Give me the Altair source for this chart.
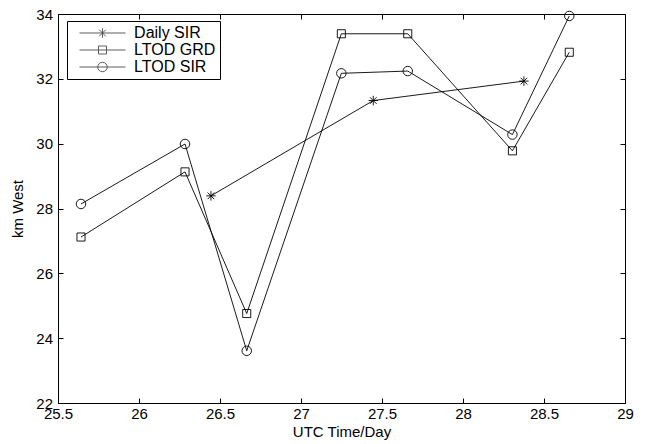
import altair as alt
import pandas as pd

# ---- data ----
daily_sir_x = [26.444, 27.446, 28.376]
daily_sir_y = [28.39, 31.33, 31.93]

ltod_grd_x = [25.642, 26.284, 26.665, 27.249, 27.659, 28.305, 28.656]
ltod_grd_y = [27.12, 29.13, 24.76, 33.39, 33.39, 29.78, 32.82]

ltod_sir_x = [25.642, 26.284, 26.665, 27.249, 27.659, 28.305, 28.656]
ltod_sir_y = [28.14, 29.99, 23.61, 32.17, 32.24, 30.28, 33.94]

series_names = ["Daily SIR", "LTOD GRD", "LTOD SIR"]
x_ticks = [25.5, 26, 26.5, 27, 27.5, 28, 28.5, 29]
y_ticks = [22, 24, 26, 28, 30, 32, 34]

rows = []
for name, xs, ys in [("Daily SIR", daily_sir_x, daily_sir_y),
                     ("LTOD GRD", ltod_grd_x, ltod_grd_y),
                     ("LTOD SIR", ltod_sir_x, ltod_sir_y)]:
    for a, b in zip(xs, ys):
        rows.append({"series": name, "t": a, "km": b})
df = pd.DataFrame(rows)

FONT = "Liberation Sans"

# marker shapes (unit path, scaled by sqrt(size)/2)
star = "M0,-1V1M-1,0H1M-0.7,-0.7L0.7,0.7M-0.7,0.7L0.7,-0.7"
square = "M-0.85,-0.85H0.85V0.85H-0.85Z"
circle = "M-1,0A1,1,0,1,1,1,0A1,1,0,1,1,-1,0Z"

# legend symbols: line + marker (symbol size 100 -> 5 px per unit)
lg_star = "M-4.6,0H4.6M0,-0.95V0.95M-0.67,-0.67L0.67,0.67M-0.67,0.67L0.67,-0.67"
lg_square = "M-4.6,0H4.6M-0.8,-0.8H0.8V0.8H-0.8Z"
lg_circle = "M-4.6,0H4.6M-0.95,0A0.95,0.95,0,1,1,0.95,0A0.95,0.95,0,1,1,-0.95,0Z"

xscale = alt.Scale(domain=[25.5, 29], nice=False, zero=False)
yscale = alt.Scale(domain=[22, 34], nice=False, zero=False)

common_axis = dict(offset=-5, tickSize=5, domain=False, grid=False,
                   tickColor="black", tickWidth=1, labelColor="black",
                   labelFont=FONT, labelFontSize=15, titleFont=FONT,
                   titleFontSize=15, titleFontWeight="normal", titleColor="black",
                   labelFlush=False, labelOverlap=False)

base = alt.Chart(df)

lines = base.mark_line(color="black", strokeWidth=0.9).encode(
    x=alt.X("t:Q", scale=xscale,
            axis=alt.Axis(values=x_ticks, format="~f", labelPadding=3,
                          title="UTC Time/Day", titlePadding=3, **common_axis)),
    y=alt.Y("km:Q", scale=yscale,
            axis=alt.Axis(values=y_ticks, format="d", labelPadding=5.5,
                          title="km West", titlePadding=10, **common_axis)),
    detail="series:N",
)

points = base.mark_point(filled=False, color="black", strokeWidth=0.9, size=90,
                         opacity=1).encode(
    x=alt.X("t:Q", scale=xscale,
            axis=alt.Axis(orient="top", values=x_ticks, labels=False, title=None,
                          **common_axis)),
    y=alt.Y("km:Q", scale=yscale,
            axis=alt.Axis(orient="right", values=y_ticks, labels=False, title=None,
                          **common_axis)),
    shape=alt.Shape("series:N", scale=alt.Scale(domain=series_names,
                                                range=[star, square, circle]),
                    legend=None),
)

legend_layer = base.mark_point(filled=False, color="black", strokeWidth=0.9).encode(
    x=alt.X("t:Q", scale=xscale, axis=None),
    y=alt.Y("km:Q", scale=yscale, axis=None),
    shape=alt.Shape("series:N",
                    scale=alt.Scale(domain=series_names,
                                    range=[lg_star, lg_square, lg_circle]),
                    legend=alt.Legend(title=None, orient="none", legendX=9, legendY=7,
                                      symbolSize=100, symbolStrokeWidth=0.9,
                                      symbolStrokeColor="black",
                                      symbolFillColor="transparent",
                                      symbolOffset=23.5, labelOffset=23.6,
                                      labelFont=FONT, labelFontSize=16,
                                      labelColor="black", padding=4,
                                      rowPadding=1, strokeColor="black",
                                      fillColor="white")),
).transform_filter("false")

chart = alt.layer(lines, points, legend_layer).resolve_axis(
    x="independent", y="independent"
).resolve_scale(shape="independent").properties(
    width=567, height=389,
    autosize=alt.AutoSizeParams(type="none"),
    padding={"left": 50, "top": 6, "right": 13, "bottom": 40},
    background="white",
).configure_view(stroke="black", strokeWidth=1)

chart.save("out.html", embed_options={"renderer": "svg", "actions": False})
